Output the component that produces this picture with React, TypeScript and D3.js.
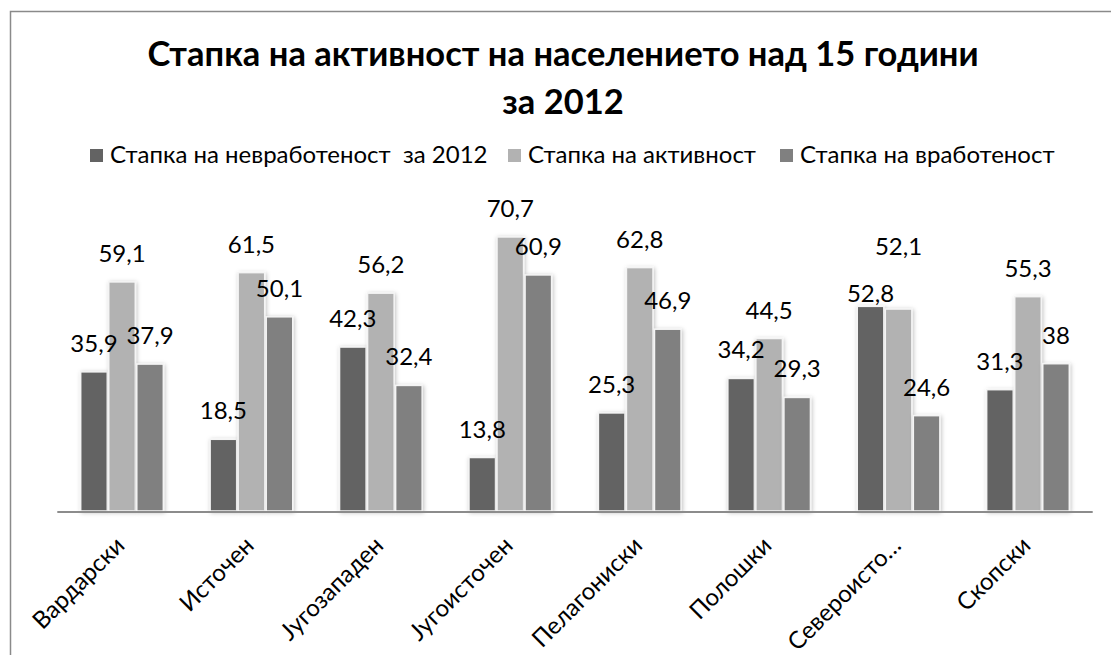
import React, { useEffect, useRef } from "react";
import * as d3 from "d3";

const title1 = "Стапка на активност на населението над 15 години";
const title2 = "за 2012";
const categories = ["Вардарски", "Источен", "Југозападен", "Југоисточен", "Пелагониски", "Полошки", "Североисто…", "Скопски"];
const seriesNames = ["Стапка на невработеност  за 2012", "Стапка на активност", "Стапка на вработеност"];
const unemployment = [35.9, 18.5, 42.3, 13.8, 25.3, 34.2, 52.8, 31.3];
const activity = [59.1, 61.5, 56.2, 70.7, 62.8, 44.5, 52.1, 55.3];
const employment = [37.9, 50.1, 32.4, 60.9, 46.9, 29.3, 24.6, 38];
const seriesValues = [unemployment, activity, employment];
const colors = ["#636363", "#b2b2b2", "#808080"];

const FONT = "Lato, 'Open Sans', sans-serif";

// manual label nudges (series index, category index) -> [dx, dy]
const labelNudge: Record<string, [number, number]> = {
  "0-6": [0, 16],
  "1-6": [0, -34],
};

export default function App() {
  const ref = useRef<SVGSVGElement | null>(null);
  useEffect(() => {
    const svg = d3.select(ref.current);
    svg.selectAll("*").remove();
    const W = 1111, H = 655;
    const defs = svg.append("defs");
    const f = defs.append("filter").attr("id", "sh").attr("x", "-30%").attr("y", "-10%").attr("width", "160%").attr("height", "120%");
    f.append("feDropShadow").attr("dx", 1).attr("dy", 1).attr("stdDeviation", 2).attr("flood-color", "#000").attr("flood-opacity", 0.25);

    svg.append("rect").attr("x", 0).attr("y", 0).attr("width", W).attr("height", H).attr("fill", "#fff");
    svg.append("rect").attr("x", 10.5).attr("y", 11.5).attr("width", 1130).attr("height", 700)
      .attr("fill", "#fff").attr("stroke", "#8a8a8a").attr("stroke-width", 1.5);

    // title
    svg.append("text").attr("x", 563).attr("y", 66).attr("text-anchor", "middle")
      .attr("font-family", FONT).attr("font-weight", "bold").attr("font-size", 34.5).attr("fill", "#000").text(title1);
    svg.append("text").attr("x", 563).attr("y", 114).attr("text-anchor", "middle")
      .attr("font-family", FONT).attr("font-weight", "bold").attr("font-size", 34.5).attr("fill", "#000").text(title2);

    // legend
    const legX = [90, 508, 780];
    seriesNames.forEach((n, i) => {
      svg.append("rect").attr("x", legX[i]).attr("y", 149).attr("width", 13).attr("height", 13).attr("fill", colors[i]);
      svg.append("text").attr("x", legX[i] + 20).attr("y", 163).attr("font-family", FONT).attr("font-size", 24)
        .attr("fill", "#000").style("white-space", "pre").text(n);
    });

    const baseY = 511;
    const x0 = d3.scaleBand<string>().domain(categories).range([57.3, 1092.7]).paddingInner(0.35).paddingOuter(0.175);
    const x1 = d3.scaleBand<number>().domain([0, 1, 2]).range([0, x0.bandwidth()]).padding(0);
    const y = d3.scaleLinear().domain([0, 80]).range([baseY, baseY - 80 * 3.876]);

    const g = svg.append("g");
    categories.forEach((c, ci) => {
      seriesValues.forEach((vals, si) => {
        const v = vals[ci];
        const bx = (x0(c) as number) + (x1(si) as number);
        g.append("rect").attr("x", bx + 0.75).attr("y", y(v)).attr("width", x1.bandwidth() - 1.5)
          .attr("height", baseY - y(v)).attr("fill", colors[si]).attr("stroke", "#f4f4f4").attr("stroke-width", 1.5)
          .attr("filter", "url(#sh)");
      });
    });

    svg.append("line").attr("x1", 57.3).attr("x2", 1092.7).attr("y1", baseY + 1).attr("y2", baseY + 1)
      .attr("stroke", "#8c8c8c").attr("stroke-width", 2);

    categories.forEach((c, ci) => {
      seriesValues.forEach((vals, si) => {
        const v = vals[ci];
        const nd = labelNudge[`${si}-${ci}`] || [0, 0];
        const cx = (x0(c) as number) + (x1(si) as number) + x1.bandwidth() / 2;
        svg.append("text").attr("x", cx + nd[0]).attr("y", y(v) - 20 + nd[1]).attr("text-anchor", "middle")
          .attr("font-family", FONT).attr("font-size", 24).attr("fill", "#000")
          .text(String(v).replace(".", ","));
      });
      const gx = (x0(c) as number) + x0.bandwidth() / 2;
      svg.append("text").attr("transform", `translate(${gx + 4},${baseY + 36}) rotate(-45)`)
        .attr("text-anchor", "end").attr("font-family", FONT).attr("font-size", 24).attr("fill", "#000")
        .text(c);
    });
  }, []);
  return <svg ref={ref} width={1111} height={655} style={{ position: "absolute", left: 0, top: 0, display: "block" }} />;
}
